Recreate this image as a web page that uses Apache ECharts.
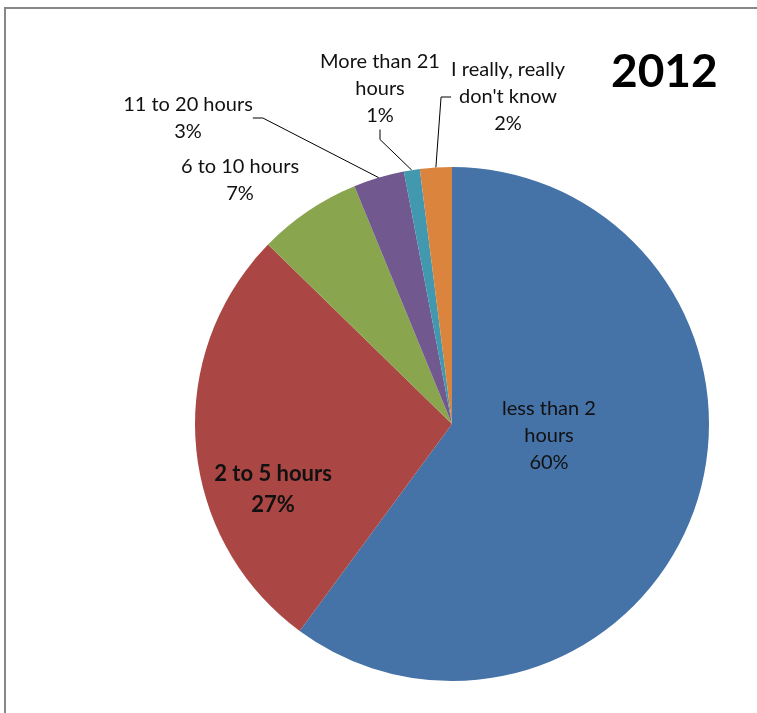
<!DOCTYPE html>
<html>
	<head>
		<meta charset="utf-8">
		<title>2012 pie</title>
	</head>
	<style type="text/css">
		* {
			margin: 0;
			padding: 0;
		}

		#chart-container {
			position: absolute;
			left: 0;
			top: 0;
			width: 757px;
			height: 713px;
			background: #fff;
		}

		#frame {
			position: absolute;
			left: 4px;
			top: 7px;
			width: 760px;
			height: 720px;
			border-left: 2px solid #878787;
			border-top: 2px solid #878787;
			pointer-events: none;
		}
	</style>
	<body>
		<div id="chart-container"></div>
		<div id="frame"></div>
		<script src="https://cdn.jsdelivr.net/npm/echarts@6/dist/echarts.min.js"></script>
	</body>
	<script type="text/javascript">
		// data (percent of respondents)
		var categories = [
			"less than 2\nhours",
			"2 to 5 hours",
			"6 to 10 hours",
			"11 to 20 hours",
			"More than 21\nhours",
			"I really, really\ndon't know"
		];
		var values = [60.1, 27.2, 6.5, 3.2, 1.0, 2.0];
		var colors = ["#4572A7", "#AA4643", "#89A54E", "#71588F", "#4198AF", "#DB843D"];

		// where each label sits (center of the text block)
		var labelPos = [
			[549, 436],
			[273, 489],
			[240, 180],
			[188, 118],
			[380, 89],
			[508, 97]
		];
		var insideIdx = [0, 1];
		var noLineIdx = [0, 1, 2];

		var dom = document.getElementById('chart-container');
		var myChart = echarts.init(dom, null, {
			renderer: 'canvas'
		});

		var seriesData = categories.map(function(name, i) {
			var item = {
				name: name,
				value: values[i],
				itemStyle: {
					color: colors[i]
				}
			};
			if (insideIdx.indexOf(i) >= 0) {
				item.label = {
					position: 'inside'
				};
			}
			if (noLineIdx.indexOf(i) >= 0) {
				item.labelLine = {
					show: false
				};
			}
			if (i === 1) {
				item.label.fontWeight = 'bold';
				item.label.fontSize = 22;
				item.label.lineHeight = 31;
			}
			return item;
		});

		var option = {
			animation: false,
			title: {
				text: '2012',
				left: 606,
				top: 44,
				textStyle: {
					fontFamily: 'Lato',
					fontSize: 46,
					fontWeight: 'bold',
					color: '#000'
				}
			},
			series: [{
				type: 'pie',
				center: [452, 424],
				radius: 257,
				startAngle: 90,
				clockwise: true,
				percentPrecision: 0,
				avoidLabelOverlap: false,
				label: {
					show: true,
					position: 'outside',
					formatter: '{b}\n{d}%',
					fontFamily: 'Lato',
					fontSize: 20,
					lineHeight: 27,
					color: '#111',
					align: 'center'
				},
				labelLine: {
					show: true,
					length: 10,
					length2: 10,
					lineStyle: {
						color: '#000',
						width: 1
					}
				},
				labelLayout: function(params) {
					var p = labelPos[params.dataIndex];
					return {
						x: p[0],
						y: p[1],
						align: 'center',
						verticalAlign: 'middle'
					};
				},
				emphasis: {
					disabled: true
				},
				data: seriesData
			}]
		};

		myChart.setOption(option);
		window.addEventListener('resize', myChart.resize);
	</script>
</html>
